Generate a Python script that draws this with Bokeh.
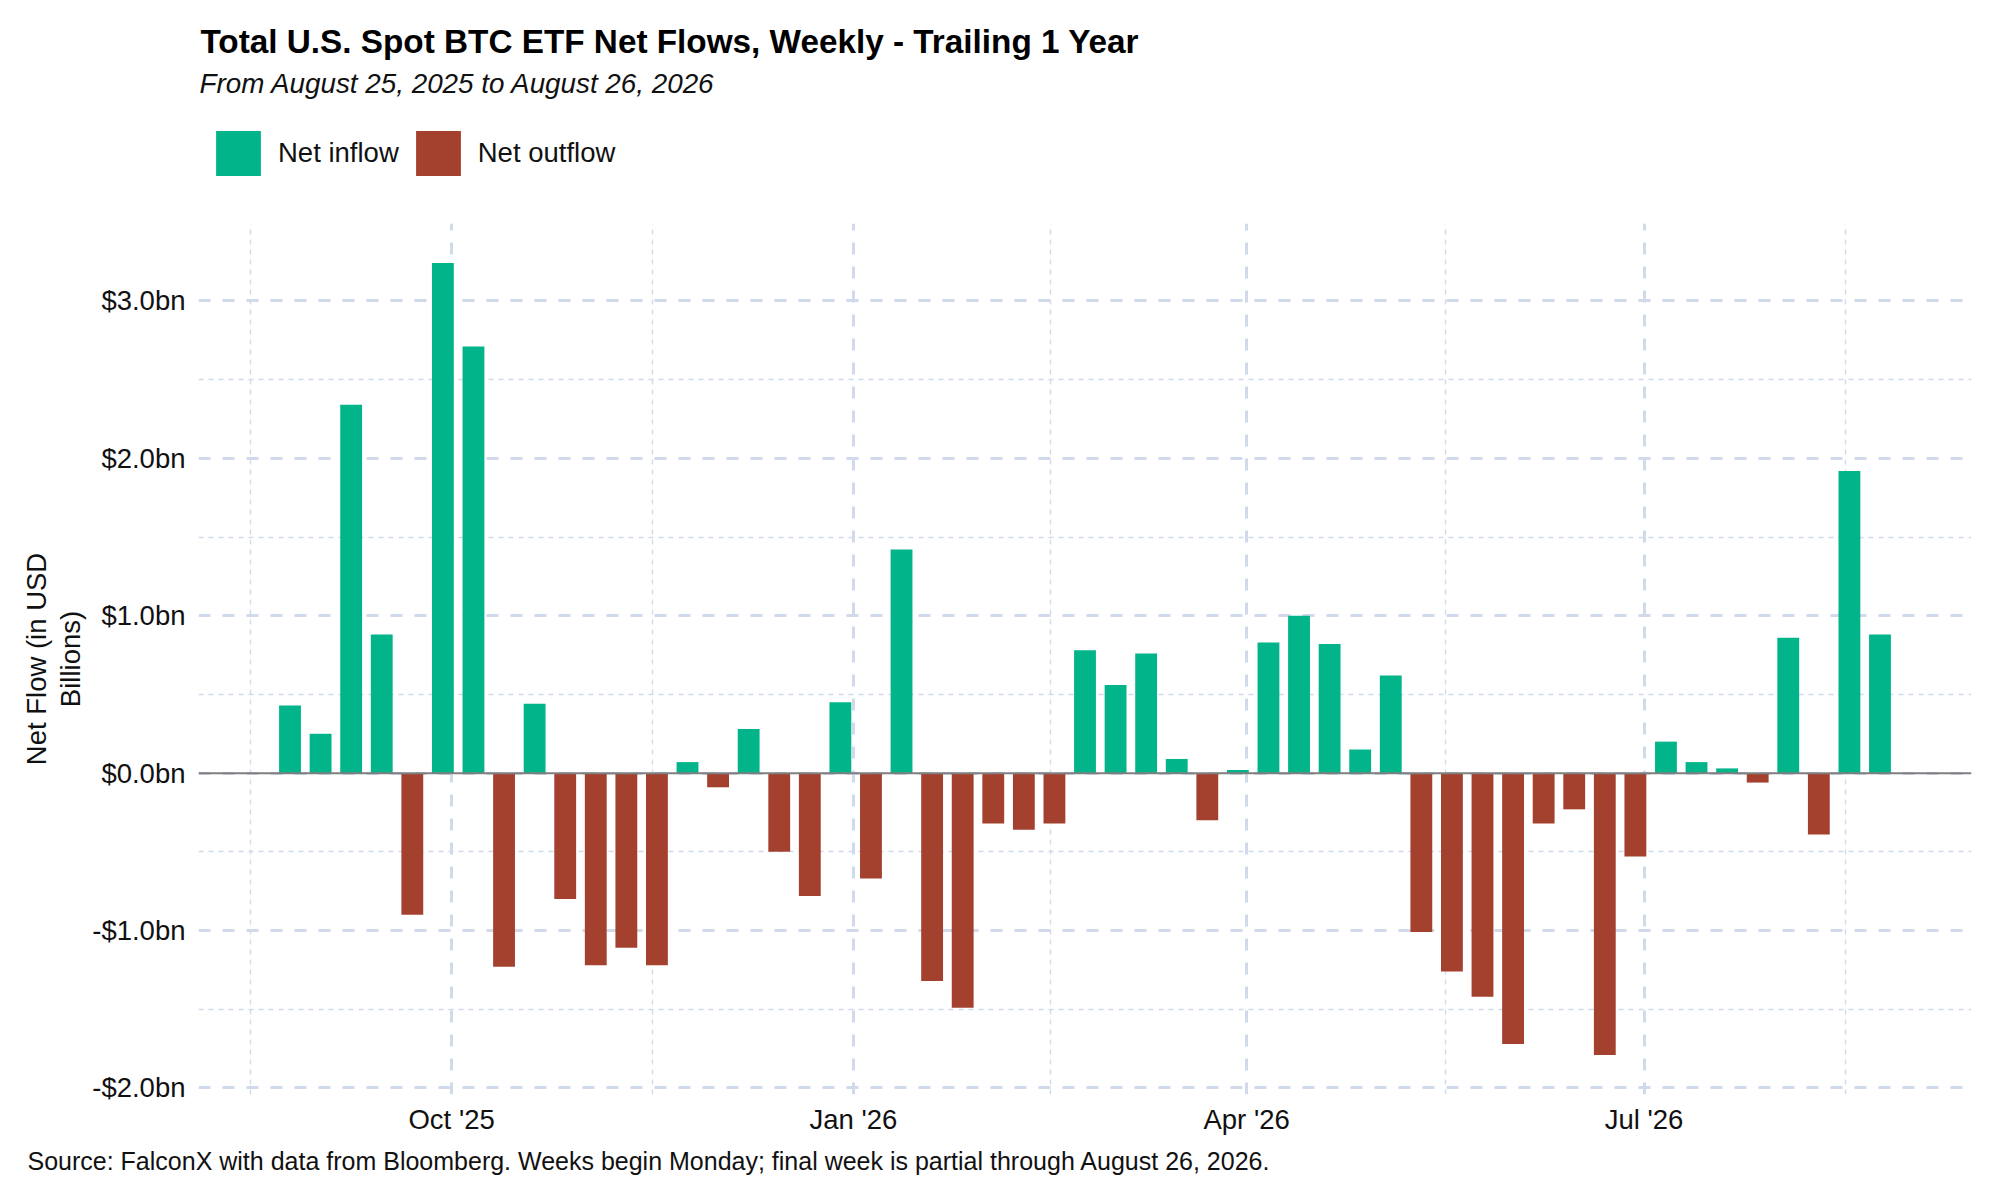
import pandas as pd
from bokeh.plotting import figure
from bokeh.layouts import column
from bokeh.models import (Range1d, FixedTicker, Legend, LegendItem, Span, Label, Title,
                          ColumnDataSource)
from bokeh.embed import file_html
from bokeh.resources import INLINE

# ---------------- data ----------------
week_start = [
    "2025-08-25", "2025-09-01", "2025-09-08", "2025-09-15", "2025-09-22", "2025-09-29",
    "2025-10-06", "2025-10-13", "2025-10-20", "2025-10-27", "2025-11-03", "2025-11-10",
    "2025-11-17", "2025-11-24", "2025-12-01", "2025-12-08", "2025-12-15", "2025-12-22",
    "2025-12-29", "2026-01-05", "2026-01-12", "2026-01-19", "2026-01-26", "2026-02-02",
    "2026-02-09", "2026-02-16", "2026-02-23", "2026-03-02", "2026-03-09", "2026-03-16",
    "2026-03-23", "2026-03-30", "2026-04-06", "2026-04-13", "2026-04-20", "2026-04-27",
    "2026-05-04", "2026-05-11", "2026-05-18", "2026-05-25", "2026-06-01", "2026-06-08",
    "2026-06-15", "2026-06-22", "2026-06-29", "2026-07-06", "2026-07-13", "2026-07-20",
    "2026-07-27", "2026-08-03", "2026-08-10", "2026-08-17", "2026-08-24",
]
net_flow_bn = [
    0.43, 0.25, 2.34, 0.88, -0.90, 3.24,
    2.71, -1.23, 0.44, -0.80, -1.22, -1.11,
    -1.22, 0.07, -0.09, 0.28, -0.50, -0.78,
    0.45, -0.67, 1.42, -1.32, -1.49, -0.32,
    -0.36, -0.32, 0.78, 0.56, 0.76, 0.09,
    -0.30, 0.02, 0.83, 1.00, 0.82, 0.15,
    0.62, -1.01, -1.26, -1.42, -1.72, -0.32,
    -0.23, -1.79, -0.53, 0.20, 0.07, 0.03,
    -0.06, 0.86, -0.39, 1.92, 0.88,
]
x_tick_dates = ["2025-10-01", "2026-01-01", "2026-04-01", "2026-07-01"]
x_tick_labels = ["Oct '25", "Jan '26", "Apr '26", "Jul '26"]
x_break_edges = ["2025-07-01", "2026-10-01"]  # neighbouring quarterly breaks (for minor grid)
y_ticks = [-2, -1, 0, 1, 2, 3]
y_tick_labels = ["-$2.0bn", "-$1.0bn", "$0.0bn", "$1.0bn", "$2.0bn", "$3.0bn"]
series_labels = ["Net inflow", "Net outflow"]

title_text = "Total U.S. Spot BTC ETF Net Flows, Weekly - Trailing 1 Year"
subtitle_text = "From August 25, 2025 to August 26, 2026"
caption_text = ("Source: FalconX with data from Bloomberg.  Weeks begin Monday; "
                "final week is partial through August 26, 2026.")
y_title = "Net Flow (in USD\nBillions)"

# ---------------- styling ----------------
GREEN = "#02B489"
RED = "#A3402E"
GRID = "#D0DAEA"
TXT = "#111111"
FONT = "Liberation Sans"
DAY_MS = 86400000.0
BAR_W = 5 * DAY_MS
FL, FR = 198, 13          # shared left / right borders of all stacked figures
FW, FH = 1773, 871        # chart frame
HEAD_H = 193              # header figure height
TOP_GAP = 30              # space between header and chart frame
FB = 100                  # below the chart frame (axis labels + source note)


def to_ms(dates):
    d = pd.to_datetime(pd.Series(dates))
    return ((d - pd.Timestamp("1970-01-01")) // pd.Timedelta(milliseconds=1)).astype(float).tolist()


x_ms = to_ms(week_start)
pos = [v >= 0 for v in net_flow_bn]
src_in = ColumnDataSource(dict(x=[x for x, p in zip(x_ms, pos) if p],
                               top=[v for v, p in zip(net_flow_bn, pos) if p]))
src_out = ColumnDataSource(dict(x=[x for x, p in zip(x_ms, pos) if not p],
                                top=[v for v, p in zip(net_flow_bn, pos) if not p]))

# ranges like ggplot: data extent expanded 5%
x0, x1 = min(x_ms) - BAR_W / 2, max(x_ms) + BAR_W / 2
xpad = 0.05 * (x1 - x0)
y0, y1 = min(min(net_flow_bn), 0), max(max(net_flow_bn), 0)
ypad = 0.05 * (y1 - y0)

# ---------------- header: title, subtitle, legend ----------------
# header coordinates = page pixels (x from the left edge, y from the top)
head = figure(frame_width=FW, frame_height=HEAD_H,
              min_border_left=FL, min_border_right=FR, min_border_top=0, min_border_bottom=0,
              x_range=Range1d(FL, FL + FW), y_range=Range1d(HEAD_H, 0),
              x_axis_location=None, y_axis_location=None,
              output_backend="svg", toolbar_location=None, tools="")
head.title.visible = False
head.grid.visible = False
head.outline_line_color = None
head.background_fill_color = "white"
head.border_fill_color = "white"


def hlab(text, x, y, size, style, color):
    head.add_layout(Label(x=x, y=y, text=text, text_font=FONT, text_font_size=size,
                          text_font_style=style, text_align="left",
                          text_baseline="alphabetic", text_color=color))


hlab(title_text, 200, 41, "33.3px", "bold", "black")
hlab(subtitle_text, 199, 83, "27.8px", "italic", TXT)

# legend keys (zero-height, off-view swatch renderers carrying the two fill colours)
k_in = head.vbar(x=[0], top=[0], bottom=[0], width=0, fill_color=GREEN, line_color=None)
k_out = head.vbar(x=[0], top=[0], bottom=[0], width=0, fill_color=RED, line_color=None)
legend = Legend(items=[LegendItem(label=series_labels[0], renderers=[k_in]),
                       LegendItem(label=series_labels[1], renderers=[k_out])],
                orientation="horizontal", location="bottom_left",
                glyph_width=56, glyph_height=56, label_standoff=12, spacing=11,
                padding=0, margin=12, border_line_color=None, background_fill_alpha=0,
                label_text_font=FONT, label_text_font_size="27.5px",
                label_text_color=TXT)
head.add_layout(legend)

# ---------------- main chart ----------------
p = figure(x_axis_type="datetime", frame_width=FW, frame_height=FH,
           min_border_left=FL, min_border_right=FR, min_border_top=TOP_GAP,
           min_border_bottom=FB,
           x_range=Range1d(x0 - xpad, x1 + xpad), y_range=Range1d(y0 - ypad, y1 + ypad),
           output_backend="svg", toolbar_location=None, tools="")
p.title.visible = False
p.outline_line_color = None
p.background_fill_color = "white"
p.border_fill_color = "white"

p.vbar(x="x", top="top", bottom=0, width=BAR_W, source=src_in,
       fill_color=GREEN, line_color=None)
p.vbar(x="x", top="top", bottom=0, width=BAR_W, source=src_out,
       fill_color=RED, line_color=None)

xt = to_ms(x_tick_dates)
edges = to_ms(x_break_edges)
all_breaks = [edges[0]] + xt + [edges[1]]
x_minor = [(a + b) / 2 for a, b in zip(all_breaks[:-1], all_breaks[1:])]
p.xaxis.ticker = FixedTicker(ticks=xt, minor_ticks=x_minor)
p.xaxis.major_label_overrides = {t: l for t, l in zip(xt, x_tick_labels)}
y_minor = [(a + b) / 2 for a, b in zip(y_ticks[:-1], y_ticks[1:])]
p.yaxis.ticker = FixedTicker(ticks=y_ticks, minor_ticks=y_minor)
p.yaxis.major_label_overrides = {t: l for t, l in zip(y_ticks, y_tick_labels)}

for ax in (p.xaxis[0], p.yaxis[0]):
    ax.axis_line_color = None
    ax.major_tick_line_color = None
    ax.minor_tick_line_color = None
    ax.major_tick_out = 0
    ax.major_tick_in = 0
    ax.major_label_text_font = FONT
    ax.major_label_text_font_size = "27.5px"
    ax.major_label_text_color = TXT
p.xaxis.major_label_standoff = 5
p.yaxis.major_label_standoff = 9
p.yaxis.axis_label = y_title
p.yaxis.axis_label_text_font = FONT
p.yaxis.axis_label_text_font_size = "27.5px"
p.yaxis.axis_label_text_font_style = "normal"
p.yaxis.axis_label_text_color = TXT
p.yaxis.axis_label_standoff = 3
p.yaxis.axis_label_text_line_height = 1.1

for g in (p.xgrid[0], p.ygrid[0]):
    g.grid_line_color = GRID
    g.grid_line_width = 3
    g.grid_line_dash = "12 12"
    g.minor_grid_line_color = GRID
    g.minor_grid_line_width = 1.4
    g.minor_grid_line_dash = "5 5"

p.add_layout(Span(location=0, dimension="width", line_color="#7F7F7F", line_width=2))

# source note under the x axis, starting near the left page edge
p.add_layout(Title(text=caption_text, align="left", offset=26 - FL + 1, standoff=15,
                   text_font=FONT, text_font_size="25px", text_font_style="normal",
                   text_color=TXT), "below")

layout = column(head, p, spacing=0)
open("out.html", "w").write(file_html(layout, INLINE))
